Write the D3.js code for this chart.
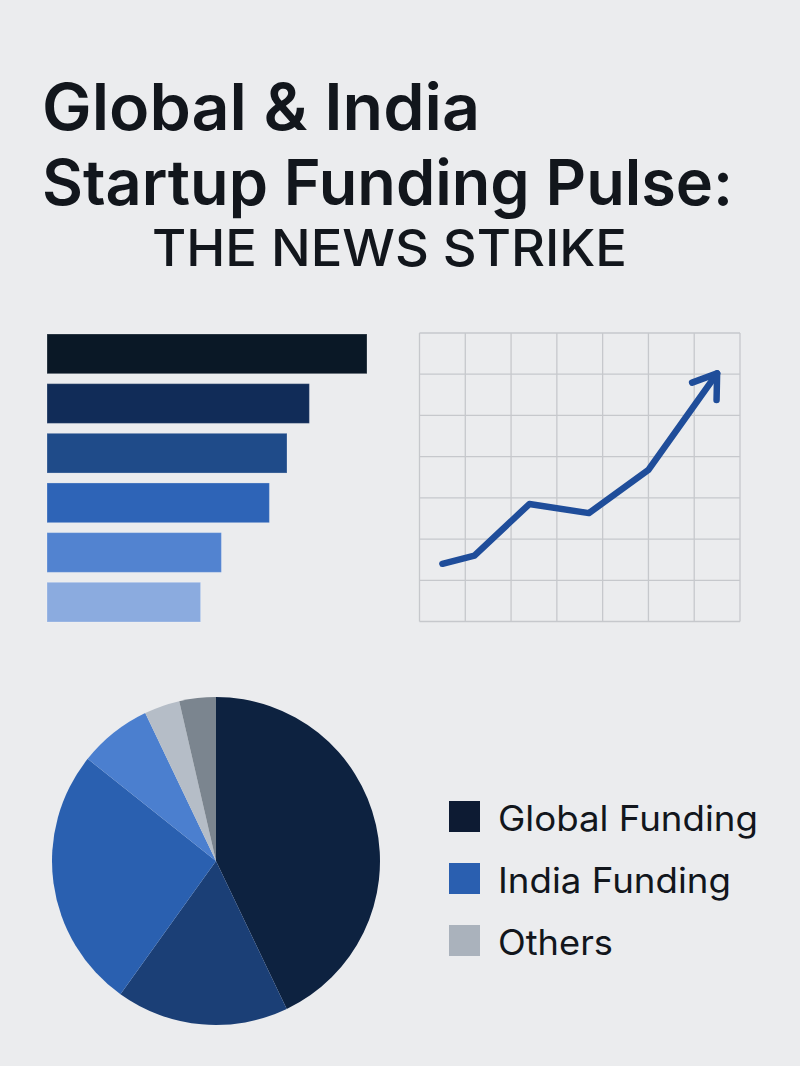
<!DOCTYPE html>
<html>
<head>
<meta charset="utf-8">
<script src="https://cdn.jsdelivr.net/npm/d3@7"></script>
<style>
  html, body { margin: 0; padding: 0; background: #ebecee; }
  svg { display: block; }
</style>
</head>
<body>
<svg id="chart" width="800" height="1066"></svg>
<script>
// ---------- DATA ----------
const titleLines = ["Global & India", "Startup Funding Pulse:"];
const subtitle = "THE NEWS STRIKE";

const barCategories = ["B1", "B2", "B3", "B4", "B5", "B6"];
const barValues = [100, 82, 75, 69.5, 54.5, 48];
const barColors = ["#0a1826", "#112c58", "#1f4b89", "#2e64b7", "#5283d0", "#8babdf"];

const lineX = [0.5, 1.2, 2.4, 3.7, 5.0, 6.5];
const lineY = [1.4, 1.6, 2.85, 2.63, 3.68, 6.02];
const gridTicks = [0, 1, 2, 3, 4, 5, 6, 7];

const pieLabels = ["Global A", "Global B", "India A", "India B", "Others A", "Others B"];
const pieValues = [42.9, 17.0, 25.8, 7.2, 3.5, 3.6];
const pieColors = ["#0d2240", "#1b3f76", "#2a60b0", "#4b7fcf", "#b5bdc7", "#7b858f"];

const legendLabels = ["Global Funding", "India Funding", "Others"];
const legendColors = ["#0d1b33", "#2a5fb0", "#aab2bc"];

// ---------- SETUP ----------
const svg = d3.select("#chart");
const textColor = "#12161c";
svg.append("rect").attr("width", 800).attr("height", 1066).attr("fill", "#ebecee");

// set font size from cap height, then squeeze/stretch to the target width
function fitText(sel, targetWidth) {
  const w = sel.node().getComputedTextLength();
  if (Math.abs(w - targetWidth) / targetWidth > 0.01) {
    sel.attr("textLength", targetWidth).attr("lengthAdjust", "spacingAndGlyphs");
  }
}

// ---------- TITLE ----------
const t1 = svg.append("text").text(titleLines[0])
  .attr("x", 42).attr("y", 130)
  .attr("font-family", "Inter, 'Noto Sans', sans-serif").attr("font-weight", 600)
  .attr("font-size", 64).attr("fill", textColor);
fitText(t1, 438);
const t2 = svg.append("text").text(titleLines[1])
  .attr("x", 42).attr("y", 205)
  .attr("font-family", "Inter, 'Noto Sans', sans-serif").attr("font-weight", 600)
  .attr("font-size", 63).attr("fill", textColor);
fitText(t2, 686);
const t3 = svg.append("text").text(subtitle)
  .attr("x", 152).attr("y", 266)
  .attr("font-family", "Inter, 'Noto Sans', sans-serif").attr("font-weight", 500)
  .attr("font-size", 51).attr("fill", textColor);
fitText(t3, 475);

// ---------- BAR CHART ----------
const xBar = d3.scaleLinear().domain([0, 100]).range([47, 367]);
const yBar = d3.scaleBand().domain(barCategories).range([334, 622]).paddingInner(0.2).paddingOuter(0);
svg.append("g").selectAll("rect").data(barValues).join("rect")
  .attr("x", xBar(0))
  .attr("y", (d, i) => yBar(barCategories[i]))
  .attr("width", d => xBar(d) - xBar(0))
  .attr("height", yBar.bandwidth())
  .attr("fill", (d, i) => barColors[i])
  .attr("stroke", "rgba(255,255,255,0.25)").attr("stroke-width", 1);

// ---------- LINE CHART ----------
const xL = d3.scaleLinear().domain([0, 7]).range([419.5, 740]);
const yL = d3.scaleLinear().domain([0, 7]).range([621.5, 333]);
const grid = svg.append("g").attr("stroke", "#c6c8cc").attr("stroke-width", 1.3);
grid.selectAll("line.v").data(gridTicks).join("line").attr("class", "v")
  .attr("x1", d => xL(d)).attr("x2", d => xL(d)).attr("y1", yL(0)).attr("y2", yL(7));
grid.selectAll("line.h").data(gridTicks).join("line").attr("class", "h")
  .attr("y1", d => yL(d)).attr("y2", d => yL(d)).attr("x1", xL(0)).attr("x2", xL(7));

const defs = svg.append("defs");
defs.append("marker").attr("id", "arrow")
  .attr("viewBox", "-30 -20 36 40").attr("refX", 0).attr("refY", 0)
  .attr("markerWidth", 36).attr("markerHeight", 40)
  .attr("markerUnits", "userSpaceOnUse").attr("orient", "auto")
  .append("path").attr("d", "M-22,-15 L0,0 L-22,15")
  .attr("fill", "none").attr("stroke", "#1f4d9a").attr("stroke-width", 6.5)
  .attr("stroke-linecap", "round").attr("stroke-linejoin", "round");

const lineGen = d3.line().x(d => xL(d[0])).y(d => yL(d[1]));
svg.append("path").datum(lineX.map((x, i) => [x, lineY[i]]))
  .attr("d", lineGen)
  .attr("fill", "none").attr("stroke", "#1f4d9a").attr("stroke-width", 6.5)
  .attr("stroke-linecap", "round").attr("stroke-linejoin", "round")
  .attr("marker-end", "url(#arrow)");

// ---------- PIE ----------
const pie = d3.pie().sort(null).value(d => d);
const arc = d3.arc().innerRadius(0).outerRadius(164);
svg.append("g").attr("transform", "translate(216,861)")
  .selectAll("path").data(pie(pieValues)).join("path")
  .attr("d", arc)
  .attr("fill", (d, i) => pieColors[i]);

// ---------- LEGEND ----------
const lg = svg.append("g").selectAll("g").data(legendLabels).join("g")
  .attr("transform", (d, i) => `translate(449,${801 + i * 62})`);
lg.append("rect").attr("width", 31).attr("height", 31)
  .attr("fill", (d, i) => legendColors[i]);
const legendWidths = [260, 233, 115];
lg.append("text").text(d => d)
  .attr("x", 49).attr("y", 29.5)
  .attr("font-family", "Inter, 'Noto Sans', sans-serif").attr("font-weight", 400)
  .attr("font-size", 35).attr("fill", textColor)
  .each(function(d, i) { fitText(d3.select(this), legendWidths[i]); });
</script>
</body>
</html>
